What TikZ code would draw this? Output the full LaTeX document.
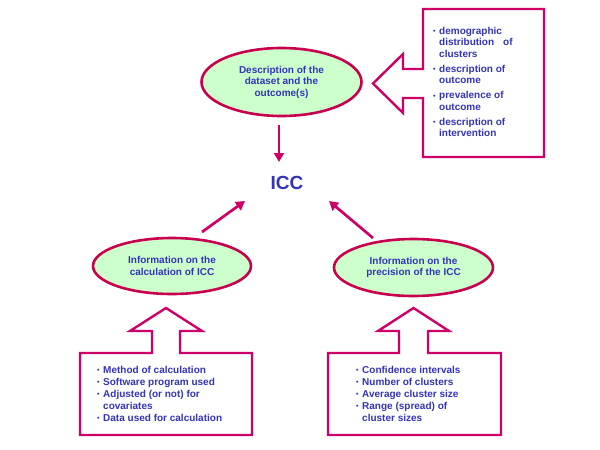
\documentclass[tikz,border=0pt]{standalone}
\usepackage{fontspec}
\setmainfont{Liberation Sans}
\usetikzlibrary{arrows.meta,shapes.geometric}
\definecolor{txtblue}{HTML}{3333BB}
\definecolor{magline}{HTML}{CC0066}
\definecolor{ellline}{HTML}{C8004E}
\definecolor{ellfill}{HTML}{CCFFCC}
\newcommand\myb[1]{\makebox[6pt][l]{\raisebox{0.6pt}{\fontsize{7}{7}\selectfont •}}#1}
\newcommand\myc[1]{\hspace*{6pt}#1}
\begin{document}
\begin{tikzpicture}[x=1pt,y=-1pt,
  oval/.style={ellipse,draw=ellline,fill=ellfill,line width=2.6pt,inner sep=0pt,
    text=txtblue,font=\fontsize{10}{11.5}\selectfont\bfseries,align=center},
  blockarrow/.style={draw=magline,line width=2.4pt,line join=miter,fill=white},
  listtext/.style={inner sep=0pt,text=txtblue,align=left,anchor=north west},
  arr/.style={draw=magline,line width=2.7pt,-{Triangle[length=9pt,width=10pt]}}]
\useasboundingbox[fill=white] (0,0) rectangle (600,450);

% block arrows
\path[blockarrow] (423,9) -- (544,9) -- (544,157) -- (423,157) -- (423,98) -- (403,98)
  -- (403,113) -- (373,83.5) -- (403,54) -- (403,69) -- (423,69) -- cycle;
\path[blockarrow] (80,353) -- (152,353) -- (152,331) -- (130,331) -- (166,308) -- (202,331)
  -- (180,331) -- (180,353) -- (252,353) -- (252,435) -- (80,435) -- cycle;
\path[blockarrow] (328,353) -- (399,353) -- (399,331) -- (378,331) -- (413.5,308) -- (449,331)
  -- (428,331) -- (428,353) -- (501,353) -- (501,435) -- (328,435) -- cycle;

% lists
\node[listtext,font=\fontsize{10}{11.5}\selectfont\bfseries] (listtop) at (433,27)
  {\myb{demographic}\\ \myc{distribution\hspace{9pt}of}\\ \myc{clusters}\\[3.5pt]
   \myb{description of}\\ \myc{outcome}\\[3.5pt]
   \myb{prevalence of}\\ \myc{outcome}\\[3.5pt]
   \myb{description of}\\ \myc{intervention}};
\node[listtext,font=\fontsize{10}{12}\selectfont\bfseries] (listleft) at (97,366)
  {\myb{Method of calculation}\\ \myb{Software program used}\\ \myb{Adjusted (or not) for}\\
   \myc{covariates}\\ \myb{Data used for calculation}};
\node[listtext,font=\fontsize{10}{12}\selectfont\bfseries] (listright) at (356,366)
  {\myb{Confidence intervals}\\ \myb{Number of clusters}\\ \myb{Average cluster size}\\
   \myb{Range (spread) of}\\ \myc{cluster sizes}};

% ellipses
\node[oval,minimum width=160pt,minimum height=68pt] (tell) at (281.5,82)
  {Description of the\\ dataset and the\\ outcome(s)};
\node[oval,minimum width=158pt,minimum height=56pt] (lell) at (172,266)
  {Information on the\\ calculation of ICC};
\node[oval,minimum width=159pt,minimum height=57pt] (rell) at (413.5,267.5)
  {Information on the\\ precision of the ICC};

% ICC
\node[text=txtblue,font=\fontsize{19}{19}\selectfont\bfseries,inner sep=0pt] (icc) at (287,183) {ICC};

% arrow end points
\coordinate (tA) at (279,125);
\coordinate (tB) at (279,162);
\coordinate (lA) at (202,232);
\coordinate (lB) at (245,201);
\coordinate (rA) at (373,238);
\coordinate (rB) at (329,201);
\draw[arr] (tA) -- (tB);
\draw[arr] (lA) -- (lB);
\draw[arr] (rA) -- (rB);
\end{tikzpicture}
\end{document}
